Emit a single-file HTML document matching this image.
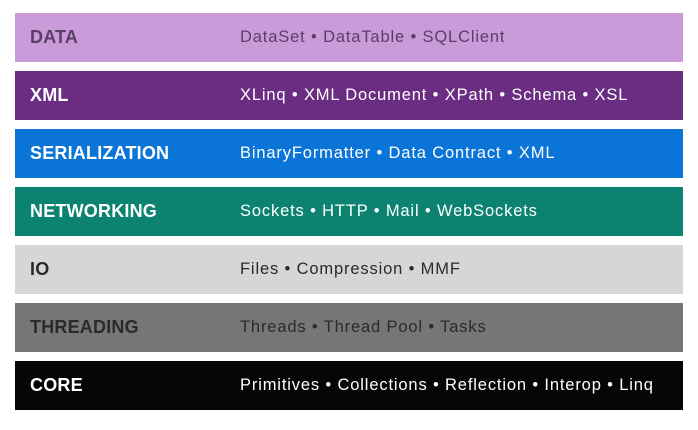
<!DOCTYPE html>
<html><head><style>
html,body{margin:0;padding:0;width:698px;height:430px;background:#fff;overflow:hidden;font-family:"Liberation Sans",sans-serif}
.b{position:absolute;left:15px;width:668px;height:49px}
.l{position:absolute;left:15px;top:0;line-height:49px;font-weight:bold;font-size:18px;letter-spacing:0.2px}
.d{position:absolute;left:225px;top:0;line-height:49px;font-size:16.5px;letter-spacing:0.85px;white-space:nowrap}
</style></head><body>
<div class="b" style="top:13px;background:#c99cd9;color:#5b3e68"><div class="l">DATA</div><div class="d">DataSet • DataTable • SQLClient</div></div>
<div class="b" style="top:71px;background:#6a2d82;color:#fff"><div class="l">XML</div><div class="d">XLinq • XML Document • XPath • Schema • XSL</div></div>
<div class="b" style="top:129px;background:#0a74d7;color:#fff"><div class="l">SERIALIZATION</div><div class="d">BinaryFormatter • Data Contract • XML</div></div>
<div class="b" style="top:187px;background:#0b8370;color:#fff"><div class="l">NETWORKING</div><div class="d">Sockets • HTTP • Mail • WebSockets</div></div>
<div class="b" style="top:245px;background:#d6d6d6;color:#2a2a2a"><div class="l">IO</div><div class="d">Files • Compression • MMF</div></div>
<div class="b" style="top:303px;background:#767676;color:#2a2a2a"><div class="l">THREADING</div><div class="d">Threads • Thread Pool • Tasks</div></div>
<div class="b" style="top:361px;background:#060606;color:#fff"><div class="l">CORE</div><div class="d">Primitives • Collections • Reflection • Interop • Linq</div></div>
</body></html>
